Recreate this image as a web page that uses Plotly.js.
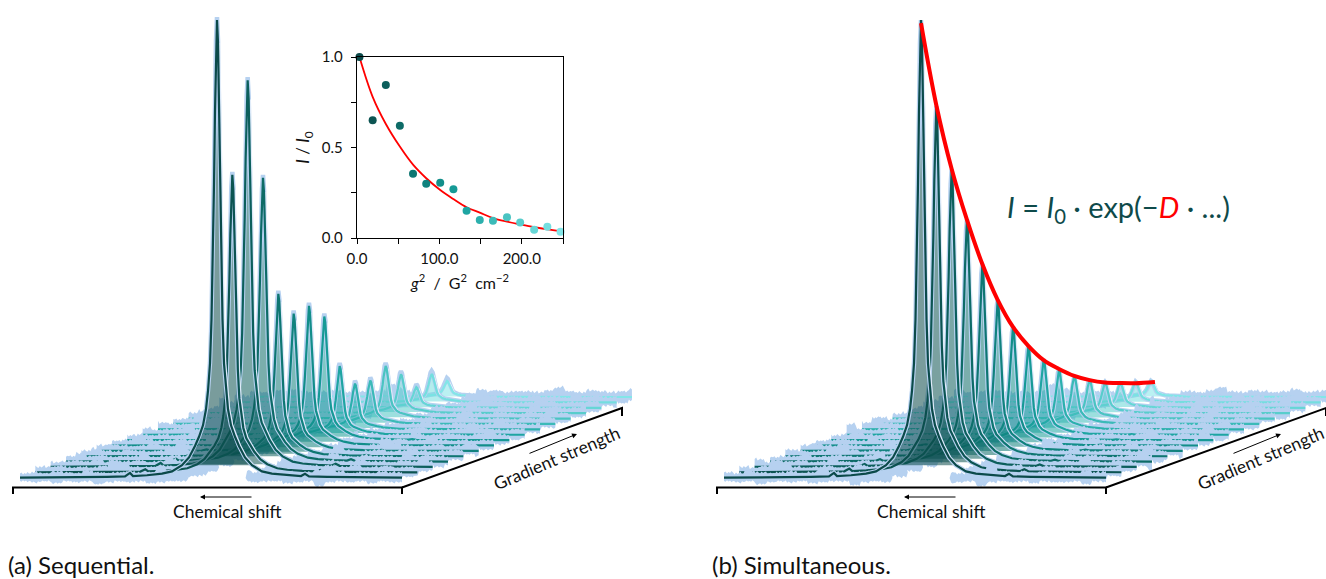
<!DOCTYPE html>
<html><head><meta charset="utf-8">
<script src="https://cdn.plot.ly/plotly-3.0.1.min.js"></script>
<style>html,body{margin:0;padding:0;background:#fff}#c{width:1326px;height:579px}</style>
</head><body><div id="c"></div>
<script>
// ---- values ----
const gradientSquared = [3,19,35,52,68,84,101,117,133,149,165,182,198,215,231,247];
const sequentialIntensity = [1.0,0.65,0.845,0.62,0.355,0.30,0.305,0.27,0.15,0.10,0.095,0.115,0.085,0.045,0.062,0.035];
const simultaneousIntensity = [1.0,0.80,0.65,0.53,0.42,0.33,0.26,0.205,0.165,0.13,0.105,0.085,0.068,0.055,0.045,0.035];
const simultaneousFit = [0.993,0.802,0.651,0.528,0.42,0.33,0.259,0.206,0.163,0.132,0.105,0.084,0.067,0.054,0.042,0.033];
const insetFit = [1.0,0.78,0.63,0.505,0.405,0.33,0.265,0.215,0.17,0.14,0.11,0.09,0.075,0.06,0.048,0.038];
const spectrumColors = ['#0b4a4a','#0c5452','#0c5f5c','#0d6b67','#0e7672','#10827e','#128e8a','#169a96','#1ea5a2','#2cb0ad','#3bbab8','#4ac4c2','#58cdcc','#66d6d6','#74dedf','#82e6e8'];
const profileShift = [-197,-160,-130,-110,-92,-87,-84,-70,-55,-45,-35,-28,-22,-18,-14,-11,-9,-7,-5.5,-4,-3,-2,-1,0,1,2,3,4,5.5,7,9,11,14,18,22,28,35,45,55,70,84,88,92,110,130,160,185];
const profileHeight = [0.0008,0.0012,0.0018,0.0025,0.0036,0.011,0.0043,0.006,0.0095,0.0145,0.028,0.045,0.07,0.09,0.115,0.15,0.19,0.25,0.346,0.5,0.64,0.8,0.95,1,0.95,0.8,0.64,0.5,0.346,0.25,0.19,0.15,0.115,0.09,0.07,0.045,0.028,0.0145,0.0095,0.006,0.0043,0.009,0.0036,0.0025,0.0018,0.0012,0.0009];
const noiseUpper = [4,5,4,6,5,4,7,5,4,5,6,4,5,9,6,4,5,5,4,6,5,7,5,4,6,5,4,5,8,12,6,4,5,4,6,5,5,4,7,5,6,4,5,6,10,5,4,5,6,4,5,7,5,4,5,6,5,4,8,5,4,6,5,5,4,6,7,5,4,5,6,11,6,5,4,5,6,5,7,4,5,5,6,4,5,8,5,4,6,5,4,7,5,6,4,5,9,6,4,5,6,5,4,7,5,5,4,6,5,8,5,4,6,5,4,5,7,5,6,4,5,6,4,5,7,5,4,5];
const noiseLower = [3,4,3,5,3,4,3,6,4,3,4,3,5,4,3,3,7,4,3,4,5,3,4,3,3,5,4,3,8,4,3,4,3,5,3,4,4,3,6,3,4,3,5,4,3,3,4,5,3,7,4,3,4,3,5,3,4,3,4,6,3,4,5,3,3,4,3,5,4,3,9,4,3,4,3,5,3,4,3,6,4,3,3,5,4,3,4,3,7,4,3,5,3,4,3,4,3,5,3,6,4,3,4,3,5,3,4,3,8,4,3,3,5,4,3,4,3,6,3,4,3,5,4,3,4,3,5,4];
const noiseFine = [0,1,-1,0.5,-0.5,1.5,0,-1,1,-0.5,0.5,2,-1,0,1,-0.5,0.5];
const xTickVals = [0,50,100,150,200,250];
const xTickText = ['0.0','','100.0','','200.0',''];
const yTickVals = [0,0.25,0.5,0.75,1];
const yTickText = ['0.0','','0.5','','1.0'];

// ---- drawing geometry (pixels on the page axes) ----
const INK = '#0e4a4a', HALO = '#b6d1f0', FONT = 'Lato, "Open Sans", sans-serif';
const PEAK_H = 458, BASE_Y = 478, STEP_X = 15.33, STEP_Y = 5.4, PEAK_X = 217, LEFT = -197, WIDTH = 382, GAP = 30;
const traces = [];

function hexA(c,a){const n=parseInt(c.slice(1),16);return `rgba(${n>>16},${(n>>8)&255},${n&255},${a})`;}

function addPanel(intensity, off){
  for(let i=intensity.length-1;i>=0;i--){
    const cx = off+PEAK_X+i*STEP_X, by = BASE_Y-i*STEP_Y, h = PEAK_H*intensity[i], col = spectrumColors[i];
    // noisy light-blue band, left open under the trace's own peak
    const n = noiseUpper.length, rot = (i*37)%n, samples = 255, bx=[], ty=[], ly=[];
    for(let j=0;j<samples;j++){
      const c = Math.floor(j/7)+off%7, k = i%2 ? (n-1-c+rot+n)%n : (c+rot)%n, f = noiseFine[(j+i*5)%noiseFine.length];
      const sx = LEFT+j*WIDTH/(samples-1), open = Math.abs(sx)<GAP;
      bx.push(cx+sx); ty.push(open?by:by-noiseUpper[k]-0.6-f); ly.push(open?by:by+noiseLower[k]+f*0.8);
    }
    traces.push({x:bx.concat(bx.slice().reverse()),y:ty.concat(ly.slice().reverse()),mode:'none',fill:'toself',fillcolor:HALO,hoverinfo:'skip',showlegend:false});
    const px = profileShift.map(s=>cx+s), py = profileHeight.map(p=>by-h*p);
    // translucent fill under the peak
    const fx=[],fy=[],ex=[],ey=[];
    profileShift.forEach((s,k)=>{
      if(Math.abs(s)<=40){fx.push(cx+s);fy.push(py[k]);}
      if(s>=1&&s<=70){ex.push(cx+s+1.8);ey.push(py[k]);}
    });
    traces.push({x:fx,y:fy,mode:'none',fill:'toself',fillcolor:hexA(col,0.55),hoverinfo:'skip',showlegend:false});
    // halo, light edge and line
    traces.push({x:px,y:py.map((v,k)=>v-(off?0:3)*profileHeight[k]),mode:'lines',line:{color:HALO,width:4.5},hoverinfo:'skip',showlegend:false});
    traces.push({x:ex,y:ey,mode:'lines',line:{color:'rgba(255,255,255,0.6)',width:1},hoverinfo:'skip',showlegend:false});
    traces.push({x:px,y:py,mode:'lines',line:{color:col,width:2.2},hoverinfo:'skip',showlegend:false});
  }
  // skewed frame of the stack
  traces.push({x:[off+13,off+13,off+402,off+402],y:[494,487.5,487.5,494],mode:'lines',line:{color:'#000',width:2},hoverinfo:'skip',showlegend:false});
  traces.push({x:[off+402,off+622,off+622],y:[487.5,408,416],mode:'lines',line:{color:'#000',width:2},hoverinfo:'skip',showlegend:false});
}
addPanel(sequentialIntensity,0);
addPanel(simultaneousIntensity,704);

// red envelope on the right panel
traces.push({x:simultaneousFit.map((v,i)=>704+PEAK_X+i*STEP_X+(i==15?4:0)),y:simultaneousFit.map((v,i)=>BASE_Y-i*STEP_Y-PEAK_H*v),mode:'lines',line:{color:'#ff0000',width:4,shape:'spline',smoothing:1},hoverinfo:'skip',showlegend:false});

// inset
traces.push({x:gradientSquared,y:insetFit,xaxis:'x2',yaxis:'y2',mode:'lines',line:{color:'#ff0000',width:1.8,shape:'spline'},hoverinfo:'skip',showlegend:false});
traces.push({x:gradientSquared,y:sequentialIntensity,xaxis:'x2',yaxis:'y2',mode:'markers',cliponaxis:false,marker:{color:spectrumColors,size:8},hoverinfo:'skip',showlegend:false});

const ann = (x,y,text,size,extra)=>Object.assign({xref:'x',yref:'y',x,y,text,showarrow:false,font:{family:FONT,size,color:'#111'}},extra||{});
const arrow = (x,y,ax,ay)=>({xref:'x',yref:'y',axref:'x',ayref:'y',x,y,ax,ay,text:'',showarrow:true,arrowhead:2,arrowsize:1,arrowwidth:1,arrowcolor:'#000'});
const annotations = [];
[0,704].forEach(off=>{
  annotations.push(ann(off+227,511,'Chemical shift',17.5));
  annotations.push(ann(off+556,458,'Gradient strength',17.5,{textangle:-23}));
  annotations.push(arrow(off+200,497,off+253,497));
  annotations.push(arrow(off+577,434,off+528,454));
});
annotations.push(ann(6,564,'(a) Sequential.',24,{xanchor:'left'}));
annotations.push(ann(710,564,'(b) Simultaneous.',24,{xanchor:'left'}));
annotations.push(ann(1118,208,'<i>I</i> = <i>I</i><sub>0</sub> · exp(−<span style="color:#ff0000"><i>D</i></span> · ...)',29,{font:{family:FONT,size:29,color:INK}}));

const tickFont = {family:FONT,size:15,color:'#111'};
const layout = {
  width:1326,height:579,margin:{l:0,r:0,t:0,b:0},paper_bgcolor:'#fff',plot_bgcolor:'rgba(0,0,0,0)',showlegend:false,
  xaxis:{domain:[0,1],range:[0,1326],visible:false,fixedrange:true},
  yaxis:{domain:[0,1],range:[579,0],visible:false,fixedrange:true},
  xaxis2:{domain:[357/1326,563/1326],anchor:'y2',range:[0,250],tickmode:'array',tickvals:xTickVals,ticktext:xTickText,ticks:'outside',ticklen:5,tickcolor:'#000',tickwidth:1,ticklabelstandoff:2,showline:true,mirror:true,linecolor:'#000',linewidth:1.2,showgrid:false,zeroline:false,fixedrange:true,tickfont:tickFont,title:{text:'<i>g</i><sup>2</sup>  /  G<sup>2</sup>  cm<sup>−2</sup>',font:{family:FONT,size:16,color:'#111'},standoff:11}},
  yaxis2:{domain:[1-238/579,1-57/579],anchor:'x2',range:[0,1],tickmode:'array',tickvals:yTickVals,ticktext:yTickText,ticks:'outside',ticklen:5,tickcolor:'#000',tickwidth:1,ticklabelstandoff:5,showline:true,mirror:true,linecolor:'#000',linewidth:1.2,showgrid:false,zeroline:false,fixedrange:true,tickfont:tickFont,title:{text:'<i>I</i> / <i>I</i><sub>0</sub>',font:{family:FONT,size:17,color:'#111'},standoff:7}},
  annotations
};
Plotly.newPlot('c',traces,layout,{displayModeBar:false,staticPlot:true});
</script></body></html>
